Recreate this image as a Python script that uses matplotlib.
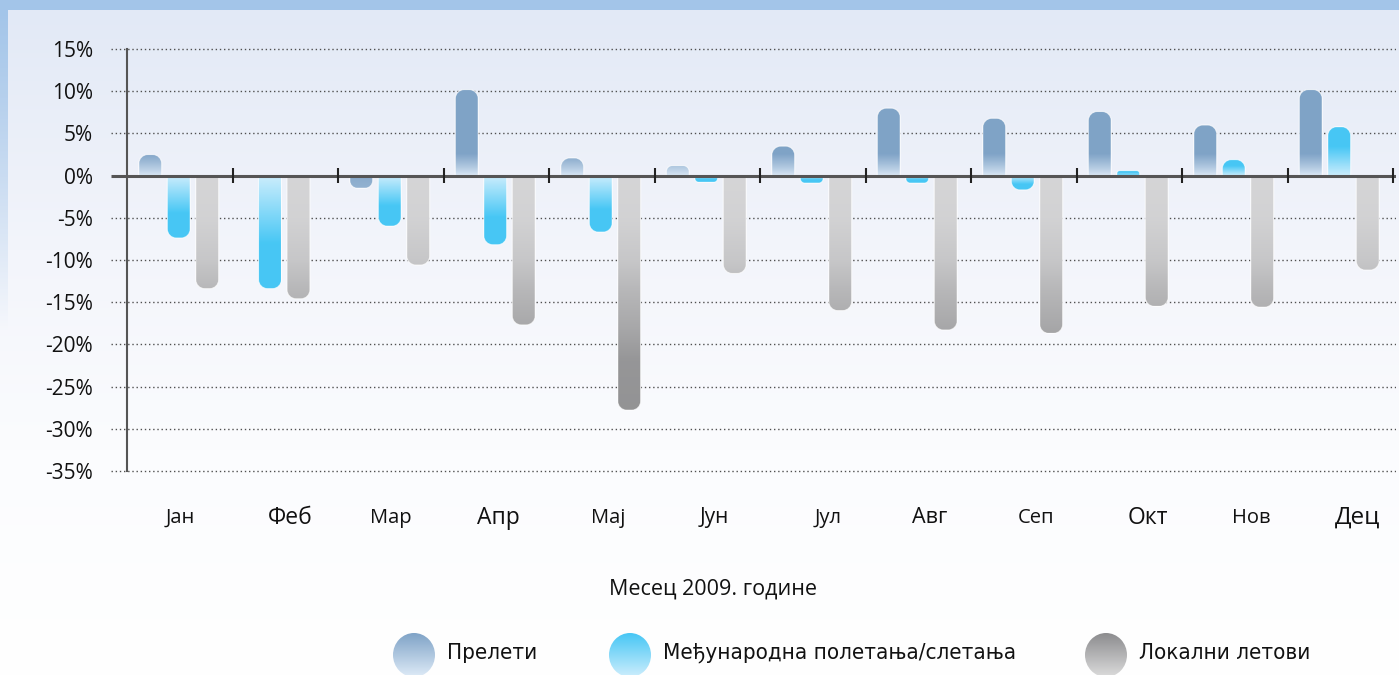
import numpy as np
import matplotlib
matplotlib.use('Agg')
import matplotlib.pyplot as plt
from matplotlib.path import Path
from matplotlib.patches import PathPatch, Ellipse

plt.rcParams['font.family'] = ['Open Sans', 'DejaVu Sans']

# data (% change)
months = ['Јан', 'Феб', 'Мар', 'Апр', 'Мај', 'Јун', 'Јул', 'Авг', 'Сеп', 'Окт', 'Нов', 'Дец']
prelet = [2.5, np.nan, -1.5, 10.2, 2.1, 1.2, 3.5, 8.0, 6.8, 7.6, 6.0, 10.2]
medjunar = [-7.4, -13.4, -6.0, -8.2, -6.7, -0.8, -0.9, -0.9, -1.7, 0.6, 1.9, 5.8]
lokalni = [-13.4, -14.6, -10.6, -17.7, -27.8, -11.6, -16.0, -18.3, -18.7, -15.5, -15.6, -11.2]
series_names = ['Прелети', 'Међународна полетања/слетања', 'Локални летови']
y_ticks = [15, 10, 5, 0, -5, -10, -15, -20, -25, -30, -35]
x_title = 'Месец 2009. године'

# look of the month labels (they are not regular in the original)
month_size = [14.5, 16.5, 14.5, 16.5, 14.5, 15, 14.5, 15.5, 14.5, 16.5, 14.5, 17.5]
month_nudge = [0.0, 0.05, 0.0, 0.02, 0.06, 0.07, 0.15, 0.11, 0.12, 0.18, 0.16, 0.16]

W, H = 1399, 675
fig = plt.figure(figsize=(W / 100, H / 100), dpi=100)

# ---- background ----
bg = fig.add_axes([0, 0, 1, 1], zorder=0)
bg.set_xlim(0, W)
bg.set_ylim(H, 0)
bg.axis('off')
yy = np.arange(H)
stops_y = [0, 10, 250, 450, H]
stops_c = np.array([[226, 233, 246], [226, 233, 246], [243, 245, 251],
                     [251, 252, 254], [255, 255, 255]]) / 255
col = np.stack([np.interp(yy, stops_y, stops_c[:, k]) for k in range(3)], axis=1)
img = np.repeat(col[:, None, :], W, axis=1)
band = np.array([163, 197, 233]) / 255
img[:10, :, :] = band
a = np.clip(1 - (yy - 10) / 320, 0, 1)[:, None]
img[:, :8, :] = (band * a + col * (1 - a))[:, None, :]
bg.imshow(img, extent=[0, W, H, 0], aspect='auto', interpolation='bilinear')

# ---- main axes ----
XL = (-0.152, 12.03)
YL = (-35.5, 15.5)
ax = fig.add_axes([111 / W, 1 - 475.2 / H, 1285.2 / W, 430.4 / H], zorder=1)
ax.set_facecolor('none')

LIGHT_P = np.array([0.87, 0.92, 0.97])
SOLID_P = np.array([0.50, 0.64, 0.78])
LIGHT_B = np.array([0.80, 0.93, 0.99])
SAT_B = np.array([0.28, 0.78, 0.96])


def col_prelet(y, v):
    if v < 0:
        t = 0.9 - 0.1 * abs(y) / abs(v)
    else:
        t = np.clip(abs(y) / 2.6, 0, 1) ** 0.8
    return LIGHT_P + (SOLID_P - LIGHT_P) * t


def col_medj(y, v):
    t = np.clip(abs(y) / abs(v) / 0.6, 0, 1)
    t = max(t, np.clip(1 - abs(v) / 2, 0, 1))
    return LIGHT_B + (SAT_B - LIGHT_B) * t


def col_lok(y, v):
    g = np.interp(abs(y), [0, 5, 10, 13.4, 18, 22, 28],
                  [213, 210, 199, 184, 168, 150, 147]) / 255
    return np.array([g, g, g + 0.006])


def bar_path(x0, x1, v, rx, ry):
    k = 0.5523
    ry = ry if v > 0 else -ry
    verts = [(x0, 0), (x0, v - ry),
             (x0, v - ry + k * ry), (x0 + rx - k * rx, v), (x0 + rx, v),
             (x1 - rx, v),
             (x1 - rx + k * rx, v), (x1, v - ry + k * ry), (x1, v - ry),
             (x1, 0), (x0, 0)]
    codes = [Path.MOVETO, Path.LINETO, Path.CURVE4, Path.CURVE4, Path.CURVE4,
             Path.LINETO, Path.CURVE4, Path.CURVE4, Path.CURVE4,
             Path.LINETO, Path.CLOSEPOLY]
    return Path(verts, codes)


def grad_bar(xc, v, fn, w=0.218):
    x0, x1 = xc - w / 2, xc + w / 2
    ry = min(1.07, abs(v) * 0.6)
    rx = 0.085 * ry / 1.07
    clip = PathPatch(bar_path(x0, x1, v, rx, ry), facecolor='none', edgecolor='none')
    ax.add_patch(clip)
    lo, hi = min(0, v), max(0, v)
    ys = np.linspace(lo, hi, 80)
    arr = np.array([fn(y, v) for y in ys])[:, None, :]
    im = ax.imshow(arr, extent=[x0, x1, lo, hi], origin='lower', aspect='auto',
                   interpolation='bilinear', zorder=2)
    im.set_clip_path(clip)
    ax.add_patch(PathPatch(bar_path(x0, x1, v, rx, ry), facecolor='none',
                           edgecolor=(1, 1, 1, 0.7), lw=0.8, zorder=3))


for i in range(len(months)):
    present = [(s[i], f) for s, f in ((prelet, col_prelet), (medjunar, col_medj),
                                        (lokalni, col_lok)) if not np.isnan(s[i])]
    n = len(present)
    for j, (v, f) in enumerate(present):
        grad_bar(i + 0.49 + (j - (n - 1) / 2) * 0.27, v, f)

# grid, axis lines, ticks
for t in y_ticks:
    if t != 0:
        ax.plot(XL, [t, t], color='#505050', lw=1, ls=(0, (1, 2)), zorder=1)
ax.plot(XL, [0, 0], color='#555555', lw=2.2, zorder=4, solid_capstyle='butt')
ax.plot([0, 0], [-35, 15], color='#555555', lw=1.5, zorder=4)
ax.vlines(range(1, 13), -0.9, 0.9, color='#222222', lw=1.5, zorder=5)

ax.set_xlim(*XL)
ax.set_ylim(*YL)
ax.set_xticks([])
ax.set_yticks(y_ticks)
ax.set_yticklabels([f'{t}%' for t in y_ticks], fontsize=15, color='#111111')
ax.tick_params(axis='y', length=0, pad=13)
for sp in ax.spines.values():
    sp.set_visible(False)

for i, m in enumerate(months):
    ax.text(i + 0.5 + month_nudge[i], -0.099, m, transform=ax.get_xaxis_transform(),
            ha='center', va='center', fontsize=month_size[i], color='#111111')

fig.text(713 / W, 1 - 589 / H, x_title, ha='center', va='center', fontsize=15.5,
         color='#111111')

# ---- legend ----
leg_cols = [(SOLID_P, LIGHT_P), (SAT_B, LIGHT_B),
            (np.array([0.55, 0.55, 0.56]), np.array([0.86, 0.86, 0.86]))]
leg_x = [414, 630, 1106]
for k, name in enumerate(series_names):
    cx, cy = leg_x[k], 655
    e = Ellipse((cx, cy), 42, 44, facecolor='none', edgecolor='none')
    bg.add_patch(e)
    top, bot = leg_cols[k]
    tt = np.linspace(0, 1, 64)[:, None]
    arr = (top[None, :] * (1 - tt) + bot[None, :] * tt)[:, None, :]
    im = bg.imshow(arr, extent=[cx - 21, cx + 21, cy + 22, cy - 22], aspect='auto',
                   interpolation='bilinear', zorder=2)
    im.set_clip_path(e)
    bg.text(cx + 33, 653, name, ha='left', va='center', fontsize=16,
            family='DejaVu Sans', fontstretch='condensed', color='#111111')
bg.set_xlim(0, W)
bg.set_ylim(H, 0)

fig.savefig('out.png', dpi=100)
